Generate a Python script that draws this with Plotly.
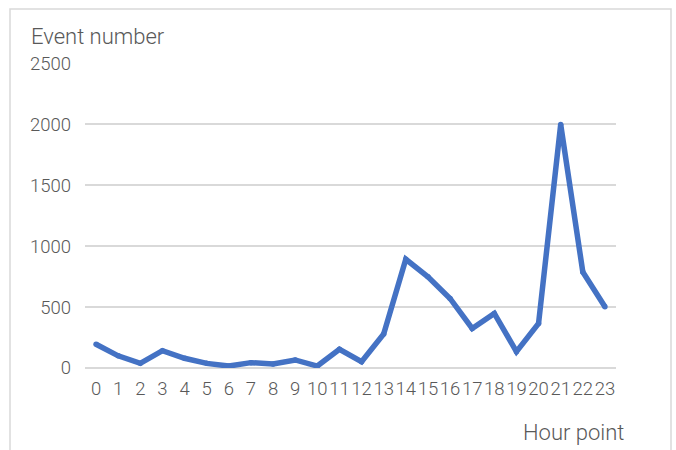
import plotly.graph_objects as go

# Hourly event counts
hours = [str(h) for h in range(24)]
events = [195, 100, 38, 142, 80, 38, 16, 44, 33, 66, 16, 153,
          52, 279, 893, 749, 571, 325, 448, 134, 366, 2000, 789, 503]
y_ticks = [0, 500, 1000, 1500, 2000, 2500]

text_color = "#595959"
grid_color = "#d9d9d9"
line_color = "#4472C4"
font_family = "Roboto"

L, R, T, B = 85, 60, 63, 82
W, H = 676, 450
pw, ph = W - L - R, H - T - B


def px(x):
    return (x - L) / pw


def py(y):
    return (H - B - y) / ph


fig = go.Figure(
    go.Scatter(
        x=hours,
        y=events,
        mode="lines+markers",
        line=dict(color=line_color, width=5.5),
        marker=dict(color=line_color, size=5.5, line=dict(width=0)),
        hoverinfo="skip",
    )
)

fig.update_layout(
    width=W,
    height=H,
    margin=dict(l=L, r=R, t=T, b=B),
    paper_bgcolor="white",
    plot_bgcolor="white",
    showlegend=False,
    font=dict(family=font_family, size=18, color=text_color, weight=300),
    xaxis=dict(
        type="category",
        range=[-0.5, 23.5],
        showgrid=False,
        showline=False,
        zeroline=False,
        ticks="",
        tickangle=0,
        tickfont=dict(family=font_family, size=18.5, color=text_color, weight=300),
        ticklabelstandoff=7,
    ),
    yaxis=dict(
        range=[0, 2505],
        tickvals=y_ticks,
        showgrid=True,
        gridcolor=grid_color,
        gridwidth=1.5,
        zeroline=True,
        zerolinecolor=grid_color,
        zerolinewidth=1.5,
        showline=False,
        ticks="",
        tickfont=dict(family=font_family, size=18.5, color=text_color, weight=300),
        ticklabelstandoff=13,
    ),
    shapes=[
        dict(
            type="rect",
            xref="paper",
            yref="paper",
            x0=px(10),
            x1=px(671),
            y0=py(470),
            y1=py(9),
            line=dict(color=grid_color, width=1.5),
            fillcolor="rgba(0,0,0,0)",
            layer="below",
        )
    ],
    annotations=[
        dict(
            text="Event number",
            xref="paper",
            yref="paper",
            x=px(29),
            y=py(36),
            xanchor="left",
            yanchor="middle",
            showarrow=False,
            font=dict(family=font_family, size=22, color=text_color, weight=300),
        ),
        dict(
            text="Hour point",
            xref="paper",
            yref="paper",
            x=px(626),
            y=py(432),
            xanchor="right",
            yanchor="middle",
            showarrow=False,
            font=dict(family=font_family, size=22, color=text_color, weight=300),
        ),
    ],
)

fig.write_html("out.html")
